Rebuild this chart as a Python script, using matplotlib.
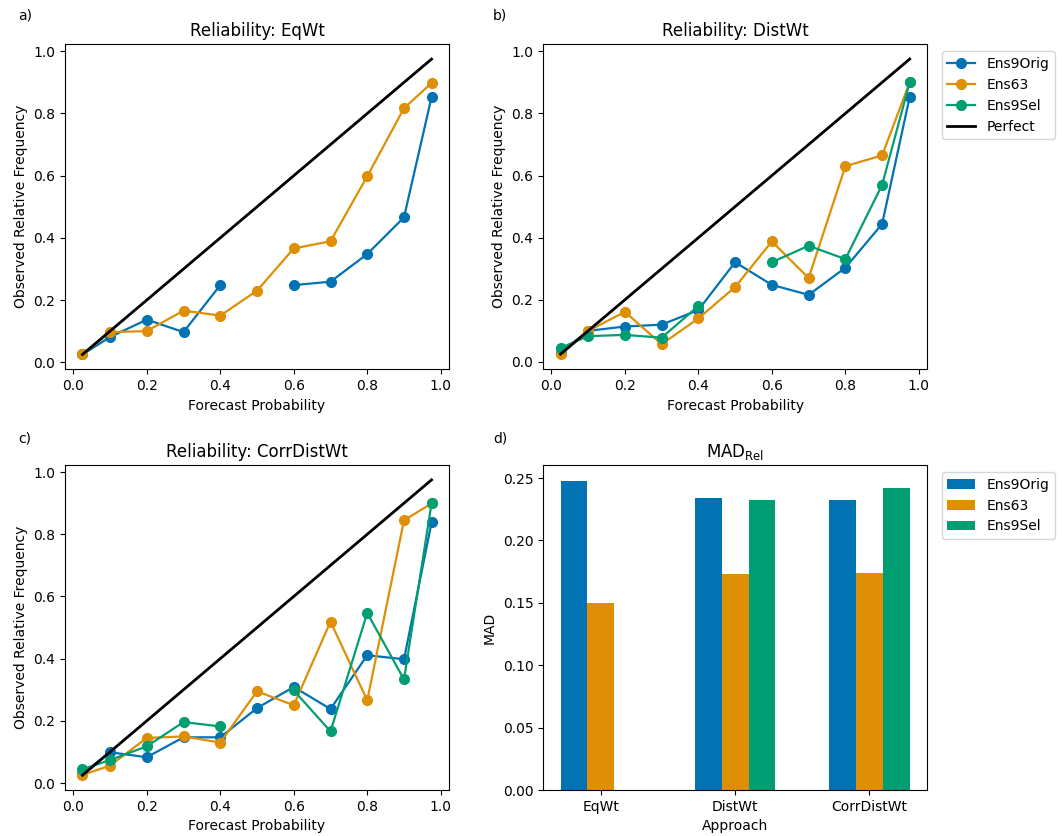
import numpy as np
import matplotlib
matplotlib.use("Agg")
import matplotlib.pyplot as plt

# forecast probability bins
prob = [0.025, 0.1, 0.2, 0.3, 0.4, 0.5, 0.6, 0.7, 0.8, 0.9, 0.975]
nan = np.nan

# EqWt
eq_orig = [0.025, 0.081, 0.137, 0.097, 0.248, nan, 0.248, 0.259, 0.348, 0.466, 0.853]
eq_63 = [0.025, 0.097, 0.100, 0.166, 0.150, 0.230, 0.366, 0.389, 0.598, 0.817, 0.898]

# DistWt
dist_orig = [0.030, 0.100, 0.114, 0.120, 0.167, 0.321, 0.248, 0.216, 0.303, 0.444, 0.853]
dist_63 = [0.024, 0.100, 0.161, 0.057, 0.140, 0.241, 0.388, 0.270, 0.630, 0.665, 0.900]
dist_sel = [0.045, 0.083, 0.087, 0.078, 0.180, nan, 0.321, 0.374, 0.331, 0.570, 0.900]

# CorrDistWt
corr_orig = [0.030, 0.099, 0.083, 0.147, 0.147, 0.241, 0.309, 0.238, 0.411, 0.398, 0.838]
corr_63 = [0.026, 0.056, 0.145, 0.150, 0.130, 0.295, 0.250, 0.519, 0.266, 0.845, 0.899]
corr_sel = [0.044, 0.074, 0.118, 0.196, 0.182, nan, 0.298, 0.166, 0.547, 0.333, 0.900]

# MAD of reliability
approaches = ["EqWt", "DistWt", "CorrDistWt"]
mad_orig = [0.248, 0.234, 0.2325]
mad_63 = [0.150, 0.1735, 0.174]
mad_sel = [nan, 0.2325, 0.242]

names = ["Ens9Orig", "Ens63", "Ens9Sel"]
colors = ["#0173B2", "#DE8F05", "#029E73"]

fig, axs = plt.subplots(2, 2, figsize=(10.62, 8.36), dpi=100)
fig.subplots_adjust(left=0.0612, right=0.873, top=0.947, bottom=0.055,
                    wspace=0.245, hspace=0.295)

def reliability(ax, series, title):
    for (name, vals), c in zip(series, colors):
        ax.plot(prob, vals, '-o', color=c, lw=1.6, ms=7, label=name)
    ax.plot([prob[0], prob[-1]], [prob[0], prob[-1]], 'k', lw=2, label="Perfect")
    ax.set_title(title)
    ax.set_xlabel("Forecast Probability")
    ax.set_ylabel("Observed Relative Frequency")
    ax.set_xticks(np.arange(0, 1.01, 0.2))
    ax.set_yticks(np.arange(0, 1.01, 0.2))

reliability(axs[0, 0], [("Ens9Orig", eq_orig), ("Ens63", eq_63)], "Reliability: EqWt")
reliability(axs[0, 1], [("Ens9Orig", dist_orig), ("Ens63", dist_63), ("Ens9Sel", dist_sel)],
            "Reliability: DistWt")
reliability(axs[1, 0], [("Ens9Orig", corr_orig), ("Ens63", corr_63), ("Ens9Sel", corr_sel)],
            "Reliability: CorrDistWt")
axs[0, 1].legend(loc="upper left", bbox_to_anchor=(1.02, 1.0))

ax = axs[1, 1]
x = np.arange(len(approaches))
w = 0.2
for i, (vals, c, name) in enumerate(zip([mad_orig, mad_63, mad_sel], colors, names)):
    ax.bar(x + (i - 1) * w, vals, width=w, color=c, label=name)
ax.set_xticks(x)
ax.set_xticklabels(approaches)
ax.set_xlabel("Approach")
ax.set_ylabel("MAD")
ax.set_title(r"MAD$_{\rm Rel}$")
ax.legend(loc="upper left", bbox_to_anchor=(1.02, 1.0))

for lab, (xx, yy) in zip(["a)", "b)", "c)", "d)"],
                         [(0.017, 0.982), (0.464, 0.982), (0.017, 0.476), (0.464, 0.476)]):
    fig.text(xx, yy, lab, fontsize=10, va="center")

fig.savefig("out.png")
